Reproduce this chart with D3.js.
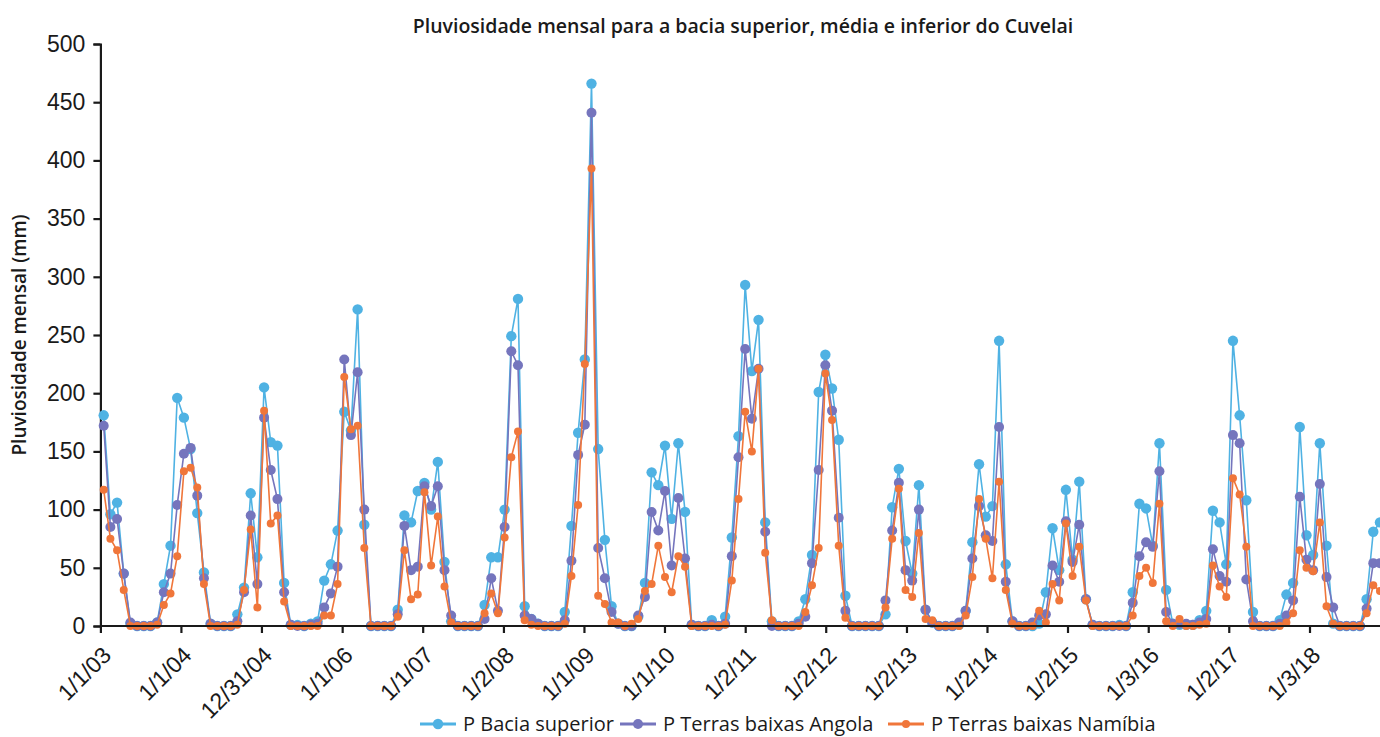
<!DOCTYPE html>
<html>
<head>
<meta charset="utf-8">
<script src="https://cdnjs.cloudflare.com/ajax/libs/d3/7.8.5/d3.min.js"></script>
<style>
  body { margin: 0; background: #fff; }
  svg { display: block; font-family: "Open Sans", "Noto Sans", sans-serif; }
</style>
</head>
<body>
<div id="chart"></div>
<script>
var W = 1380, H = 737;

// monthly rainfall (mm), Jan 2003 .. Dec 2018, 12 values a row
var baciaSuperior = [
  181, 96, 106, 45, 2, 0, 0, 0, 3, 36, 69, 196,
  179, 152, 97, 46, 2, 0, 0, 0, 10, 33, 114, 59,
  205, 158, 155, 37, 1, 1, 0, 2, 4, 39, 53, 82,
  184, 168, 272, 87, 0, 0, 0, 0, 14, 95, 89, 116,
  123, 100, 141, 55, 4, 0, 0, 0, 0, 18, 59, 59,
  100, 249, 281, 17, 6, 2, 0, 0, 0, 12, 86, 166,
  229, 466, 152, 74, 17, 2, 0, 0, 8, 37, 132, 121,
  155, 92, 157, 98, 1, 0, 0, 5, 0, 8, 76, 163,
  293, 219, 263, 89, 4, 0, 0, 0, 4, 23, 61, 201,
  233, 204, 160, 26, 0, 0, 0, 0, 0, 10, 102, 135,
  73, 45, 121, 14, 3, 0, 0, 0, 1, 13, 72, 139,
  94, 103, 245, 53, 4, 0, 0, 0, 2, 29, 84, 48,
  117, 57, 124, 23, 1, 0, 0, 0, 1, 0, 29, 105,
  101, 69, 157, 31, 2, 1, 1, 1, 5, 13, 99, 89,
  53, 245, 181, 108, 12, 0, 0, 0, 5, 27, 37, 171,
  78, 61, 157, 69, 2, 0, 0, 0, 0, 23, 81, 89
];
var terrasAngola = [
  172, 85, 92, 45, 3, 0, 0, 0, 3, 29, 45, 104,
  148, 153, 112, 41, 2, 0, 0, 0, 4, 29, 95, 36,
  179, 134, 109, 29, 1, 0, 0, 1, 2, 16, 28, 51,
  229, 164, 218, 100, 0, 0, 0, 0, 10, 86, 48, 51,
  120, 103, 120, 48, 9, 0, 0, 0, 0, 6, 41, 13,
  85, 236, 224, 9, 6, 2, 0, 0, 0, 5, 56, 147,
  173, 441, 67, 41, 12, 2, 0, 0, 9, 25, 98, 82,
  116, 52, 110, 58, 1, 0, 0, 1, 0, 2, 60, 145,
  238, 178, 221, 81, 0, 0, 0, 0, 2, 8, 54, 134,
  224, 185, 93, 13, 0, 0, 0, 0, 0, 22, 82, 123,
  48, 39, 100, 14, 3, 0, 0, 0, 3, 13, 58, 103,
  78, 73, 171, 38, 4, 0, 0, 3, 9, 10, 52, 38,
  90, 55, 87, 23, 1, 0, 0, 0, 0, 0, 20, 60,
  72, 68, 133, 12, 2, 2, 2, 1, 3, 6, 66, 43,
  38, 164, 157, 40, 4, 0, 0, 0, 2, 9, 22, 111,
  57, 48, 122, 42, 16, 0, 0, 0, 0, 15, 54, 54
];
var terrasNamibia = [
  117, 75, 65, 31, 0, 0, 0, 0, 1, 18, 28, 60,
  133, 136, 119, 36, 0, 0, 0, 0, 1, 31, 83, 16,
  185, 88, 95, 21, 0, 0, 0, 0, 0, 9, 9, 36,
  214, 169, 172, 67, 0, 0, 0, 0, 8, 65, 23, 27,
  115, 52, 94, 34, 3, 0, 0, 0, 0, 11, 28, 11,
  76, 145, 167, 5, 1, 0, 0, 0, 0, 2, 43, 104,
  225, 393, 26, 19, 3, 3, 0, 2, 6, 30, 36, 69,
  42, 29, 60, 51, 0, 0, 0, 0, 0, 1, 39, 109,
  184, 150, 221, 63, 5, 0, 0, 0, 0, 12, 35, 67,
  217, 177, 69, 7, 0, 0, 0, 0, 0, 16, 75, 118,
  31, 25, 80, 6, 5, 0, 0, 0, 0, 9, 42, 109,
  75, 41, 124, 31, 2, 0, 0, 0, 13, 3, 36, 22,
  88, 43, 68, 22, 0, 0, 0, 0, 0, 0, 9, 43,
  50, 37, 105, 4, 0, 6, 0, 0, 1, 2, 52, 34,
  25, 127, 113, 68, 0, 0, 0, 0, 0, 3, 11, 65,
  50, 47, 89, 17, 2, 0, 0, 0, 0, 11, 35, 30
];

var seriesNames = ["P Bacia superior", "P Terras baixas Angola", "P Terras baixas Namíbia"];
var seriesColors = ["#4fb2e3", "#7575bd", "#f0763a"];
var tickLabels = ["1/1/03", "1/1/04", "12/31/04", "1/1/06", "1/1/07", "1/2/08", "1/1/09", "1/1/10",
                  "1/2/11", "1/2/12", "1/2/13", "1/2/14", "1/2/15", "1/3/16", "1/2/17", "1/3/18"];
var yTicks = [0, 50, 100, 150, 200, 250, 300, 350, 400, 450, 500];

var parseDate = d3.utcParse("%m/%d/%y");
var tickDates = tickLabels.map(parseDate);
var start = tickDates[0];

// sample dates of the monthly records (about 30.3 days apart, mid month)
var dates = baciaSuperior.map(function(d, i) {
  return new Date(start.getTime() + (15 + i * 30.29) * 864e5);
});

var svg = d3.select("#chart").append("svg")
  .attr("width", W)
  .attr("height", H);

var x = d3.scaleUtc()
  .domain([tickDates[0], tickDates[tickDates.length - 1]])
  .range([100.4, 1309.5]);

var y = d3.scaleLinear()
  .domain([0, 500])
  .range([626, 44]);

// title
svg.append("text")
  .attr("x", 743)
  .attr("y", 33)
  .attr("text-anchor", "middle")
  .style("font-size", "19.5px")
  .style("font-weight", 600)
  .style("fill", "#1a1a1a")
  .text("Pluviosidade mensal para a bacia superior, média e inferior do Cuvelai");

// y axis title
svg.append("text")
  .attr("transform", "translate(26,335) rotate(-90)")
  .attr("text-anchor", "middle")
  .style("font-size", "19px")
  .style("font-weight", 600)
  .style("fill", "#1a1a1a")
  .text("Pluviosidade mensal (mm)");

// y axis
var yAxis = svg.append("g")
  .attr("transform", "translate(100.4,0)")
  .call(d3.axisLeft(y).tickValues(yTicks).tickSize(7).tickPadding(8));
yAxis.selectAll("text").style("font-size", "23px").style("fill", "#1a1a1a");
yAxis.selectAll("line, path").attr("stroke", "#1a1a1a").attr("stroke-width", 2.2);

// lines and markers
var lineGroup = svg.append("g");
var allSeries = [baciaSuperior, terrasAngola, terrasNamibia];
var radii = [5.2, 5, 4];

allSeries.forEach(function(values, s) {
  var line = d3.line()
    .x(function(d, i) { return x(dates[i]); })
    .y(function(d) { return y(d); });

  lineGroup.append("path")
    .datum(values)
    .attr("d", line)
    .attr("fill", "none")
    .attr("stroke", seriesColors[s])
    .attr("stroke-width", 1.6);

  lineGroup.selectAll(".dot" + s)
    .data(values)
    .enter().append("circle")
    .attr("class", "dot" + s)
    .attr("cx", function(d, i) { return x(dates[i]); })
    .attr("cy", function(d) { return y(d); })
    .attr("r", radii[s])
    .attr("fill", seriesColors[s]);
});

// x axis
var xAxis = svg.append("g")
  .attr("transform", "translate(0,626)")
  .call(d3.axisBottom(x)
    .tickValues(tickDates)
    .tickSize(7)
    .tickSizeOuter(0)
    .tickFormat(function(d, i) { return tickLabels[i]; }));
xAxis.select(".domain").attr("d", "M100.4,0H" + W);
xAxis.selectAll("line, path").attr("stroke", "#1a1a1a").attr("stroke-width", 2.2);
xAxis.selectAll("text")
  .attr("text-anchor", "end")
  .attr("x", 0)
  .attr("y", 0)
  .attr("dy", "0.35em")
  .attr("transform", "translate(6,25) rotate(-45)")
  .style("font-size", "23px")
  .style("fill", "#1a1a1a");

// legend
var legendX = [420, 620, 888];
var legend = svg.append("g").attr("transform", "translate(0,724)");
seriesNames.forEach(function(name, s) {
  var g = legend.append("g").attr("transform", "translate(" + legendX[s] + ",0)");
  g.append("line")
    .attr("x1", 0).attr("x2", 36)
    .attr("y1", 0).attr("y2", 0)
    .attr("stroke", seriesColors[s])
    .attr("stroke-width", 3);
  g.append("circle")
    .attr("cx", 18).attr("cy", 0)
    .attr("r", radii[s])
    .attr("fill", seriesColors[s]);
  g.append("text")
    .attr("x", 43)
    .attr("y", 0)
    .attr("dy", "0.35em")
    .style("font-size", "20px")
    .style("fill", "#1a1a1a")
    .text(name);
});
</script>
</body>
</html>
